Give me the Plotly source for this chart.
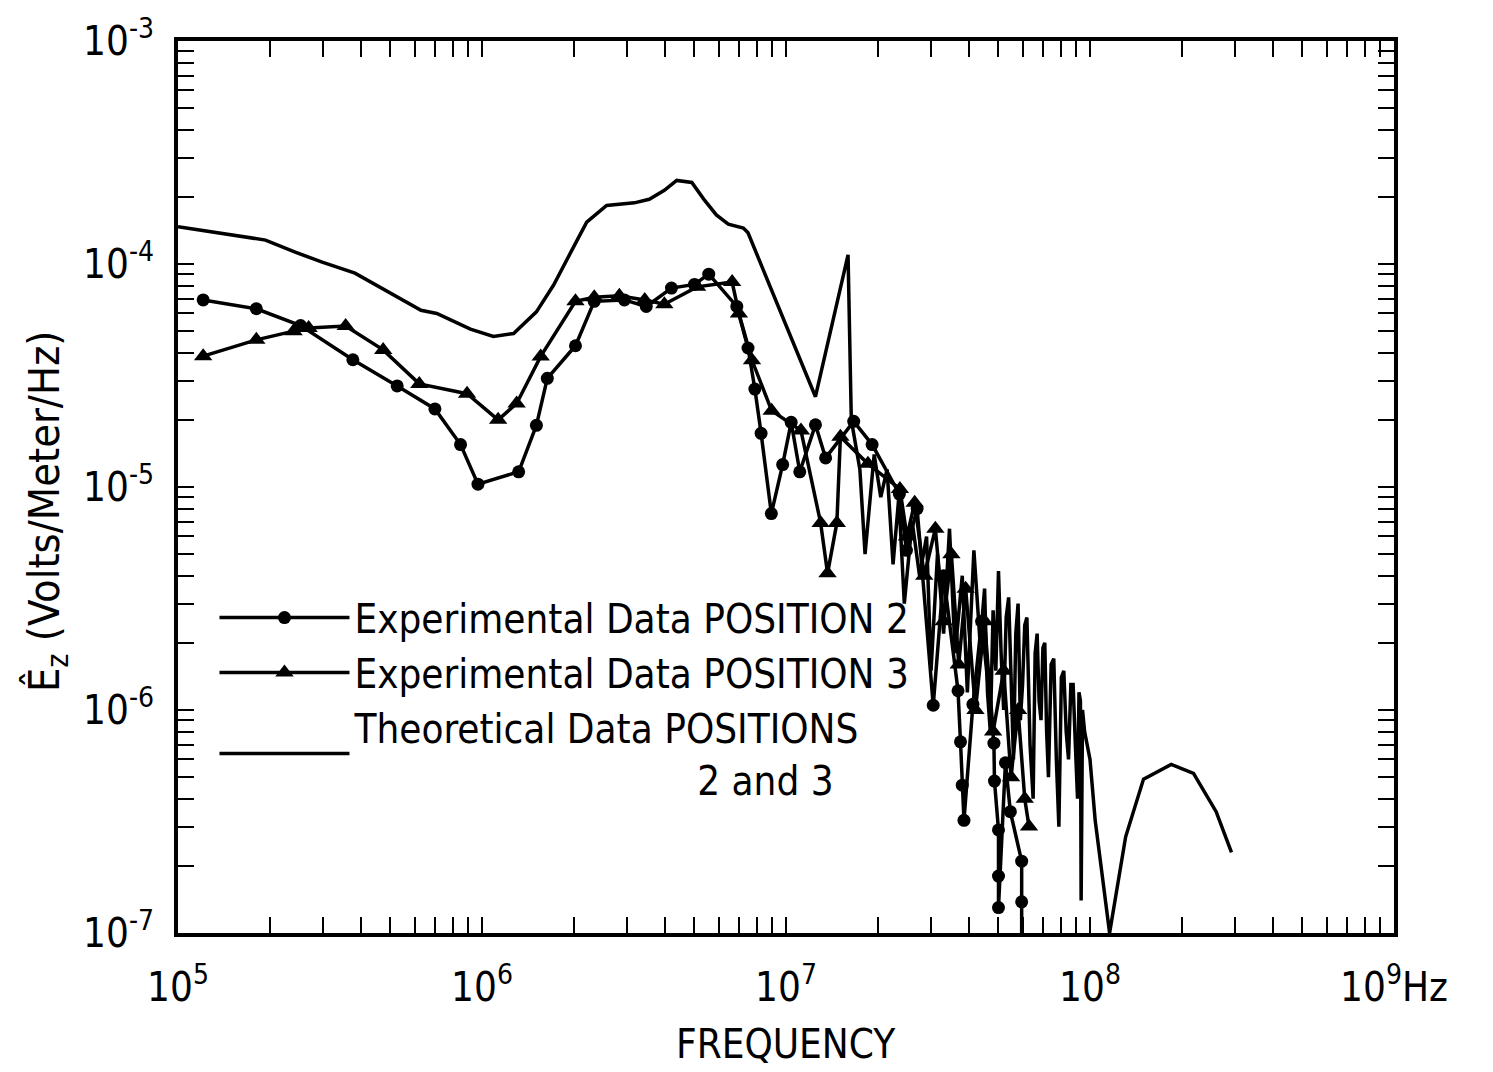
import plotly.graph_objects as go

# ---------------- data ----------------
theo_f = [1.0e5, 1.23e5, 1.94e5, 2.43e5, 2.98e5, 3.82e5, 4.89e5, 6.3e5, 7.1e5, 9.16e5,
          1.09e6, 1.27e6, 1.51e6, 1.72e6, 1.96e6, 2.21e6, 2.57e6, 3.17e6, 3.55e6, 3.98e6,
          4.37e6, 4.9e6, 5.37e6, 5.9e6, 6.46e6, 7.24e6, 7.5e6, 1.25e7, 1.6e7, 1.64e7,
          1.75e7, 1.82e7, 1.95e7, 2.05e7, 2.15e7, 2.25e7, 2.35e7, 2.45e7, 2.6e7, 2.75e7,
          2.9e7, 3.0e7, 3.15e7, 3.3e7, 3.45e7, 3.6e7, 3.8e7, 3.95e7, 4.15e7, 4.35e7,
          4.5e7, 4.6e7, 4.7e7, 4.8e7, 4.9e7, 5.0e7, 5.1e7, 5.2e7, 5.3e7, 5.4e7,
          5.5e7, 5.6e7, 5.7e7, 5.8e7, 5.9e7, 6.0e7, 6.1e7, 6.2e7, 6.35e7, 6.5e7,
          6.6e7, 6.7e7, 6.8e7, 6.9e7, 7.0e7, 7.1e7, 7.2e7, 7.3e7, 7.45e7, 7.6e7,
          7.75e7, 7.9e7, 8.05e7, 8.2e7, 8.35e7, 8.5e7, 8.65e7, 8.8e7, 8.95e7, 9.1e7,
          9.2e7, 9.3e7, 9.35e7, 9.45e7, 9.6e7, 1.0e8, 1.04e8, 1.11e8, 1.16e8, 1.31e8,
          1.5e8, 1.85e8, 2.19e8, 2.6e8, 2.92e8]
theo_v = [1.47e-4, 1.41e-4, 1.28e-4, 1.13e-4, 1.02e-4, 9.1e-5, 7.5e-5, 6.2e-5, 6.0e-5, 5.1e-5,
          4.73e-5, 4.88e-5, 6.1e-5, 8.05e-5, 1.13e-4, 1.54e-4, 1.83e-4, 1.88e-4, 1.95e-4, 2.14e-4,
          2.37e-4, 2.32e-4, 1.95e-4, 1.66e-4, 1.51e-4, 1.45e-4, 1.38e-4, 2.54e-5, 1.1e-4, 2.0e-5,
          1.2e-5, 5.0e-6, 1.4e-5, 9e-6, 1.2e-5, 4.5e-6, 9e-6, 3.0e-6, 7e-6, 4e-6,
          6e-6, 1.5e-6, 5e-6, 2.2e-6, 6.5e-6, 1.8e-6, 4e-6, 1.2e-6, 5.2e-6, 2.0e-6,
          3.5e-6, 1.2e-6, 8e-7, 2.8e-6, 1.5e-6, 4.2e-6, 1.8e-6, 1.0e-6, 2.6e-6, 3.2e-6,
          1.4e-6, 6e-7, 2.2e-6, 3.0e-6, 9e-7, 1.3e-6, 2.4e-6, 2.6e-6, 7e-7, 4e-7,
          1.8e-6, 2.2e-6, 1.1e-6, 9e-7, 1.9e-6, 2.0e-6, 8e-7, 5e-7, 1.6e-6, 1.7e-6,
          6e-7, 3e-7, 1.4e-6, 1.5e-6, 8e-7, 6e-7, 1.3e-6, 1.3e-6, 7e-7, 4e-7,
          1.2e-6, 1.1e-6, 1.4e-7, 1.0e-6, 8e-7, 6.0e-7, 3.2e-7, 1.64e-7, 1.0e-7, 2.7e-7,
          4.9e-7, 5.7e-7, 5.2e-7, 3.5e-7, 2.3e-7]

pos2_f = [1.21e5, 1.81e5, 2.53e5, 3.76e5, 5.26e5, 7.0e5, 8.5e5, 9.7e5, 1.32e6, 1.51e6,
          1.64e6, 2.03e6, 2.34e6, 2.94e6, 3.47e6, 4.2e6, 5.0e6, 5.57e6, 6.89e6, 7.5e6,
          7.9e6, 8.28e6, 8.95e6, 9.75e6, 1.04e7, 1.11e7, 1.25e7, 1.35e7, 1.67e7, 1.92e7,
          2.36e7, 2.49e7, 2.7e7, 3.05e7, 3.3e7, 3.68e7, 3.75e7, 3.8e7, 3.85e7, 4.12e7,
          4.4e7, 4.83e7, 4.85e7, 5.0e7, 5.0e7, 5.0e7, 5.27e7, 5.47e7, 5.96e7, 5.96e7, 5.96e7]
pos2_v = [6.9e-5, 6.3e-5, 5.3e-5, 3.72e-5, 2.84e-5, 2.24e-5, 1.55e-5, 1.03e-5, 1.17e-5, 1.89e-5,
          3.07e-5, 4.3e-5, 6.8e-5, 6.9e-5, 6.45e-5, 7.8e-5, 8.1e-5, 9.0e-5, 6.45e-5, 4.2e-5,
          2.75e-5, 1.74e-5, 7.6e-6, 1.26e-5, 1.95e-5, 1.17e-5, 1.9e-5, 1.35e-5, 1.97e-5, 1.55e-5,
          9.3e-6, 5.2e-6, 8e-6, 1.05e-6, 4e-6, 1.22e-6, 7.2e-7, 4.6e-7, 3.2e-7, 1.06e-6,
          2.5e-6, 7.1e-7, 4.8e-7, 2.9e-7, 1.8e-7, 1.3e-7, 5.8e-7, 3.5e-7, 2.1e-7, 1.38e-7, 9e-8]

pos3_f = [1.21e5, 1.81e5, 2.4e5, 2.69e5, 3.56e5, 4.73e5, 6.22e5, 8.93e5, 1.13e6, 1.3e6,
          1.56e6, 2.03e6, 2.34e6, 2.83e6, 3.43e6, 3.98e6, 5.1e6, 6.65e6, 7.0e6, 7.73e6,
          8.97e6, 1.12e7, 1.3e7, 1.37e7, 1.47e7, 1.51e7, 1.86e7, 2.37e7, 2.5e7, 2.65e7,
          2.85e7, 3.1e7, 3.3e7, 3.5e7, 3.7e7, 3.9e7, 4.2e7, 4.5e7, 4.8e7, 5.2e7,
          5.5e7, 5.8e7, 6.1e7, 6.3e7]
pos3_v = [3.86e-5, 4.57e-5, 5.0e-5, 5.16e-5, 5.27e-5, 4.12e-5, 2.9e-5, 2.62e-5, 2.0e-5, 2.37e-5,
          3.85e-5, 6.8e-5, 7.1e-5, 7.2e-5, 6.9e-5, 6.6e-5, 7.9e-5, 8.3e-5, 6.0e-5, 3.7e-5,
          2.2e-5, 1.79e-5, 6.9e-6, 4.1e-6, 6.9e-6, 1.68e-5, 1.27e-5, 9.8e-6, 6e-6, 8.5e-6,
          4e-6, 6.5e-6, 2.5e-6, 5e-6, 1.6e-6, 3.5e-6, 1.0e-6, 2.5e-6, 8e-7, 1.5e-6,
          5e-7, 1.0e-6, 4e-7, 3e-7]

x_decades = [5, 6, 7, 8, 9]
x_labels = ["10<sup>5</sup>", "10<sup>6</sup>", "10<sup>7</sup>", "10<sup>8</sup>", "10<sup>9</sup>Hz"]
y_decades = [-7, -6, -5, -4, -3]
y_labels = ["10<sup>-7</sup>", "10<sup>-6</sup>", "10<sup>-5</sup>", "10<sup>-4</sup>", "10<sup>-3</sup>"]

name2 = "Experimental Data POSITION 2"
name3 = "Experimental Data POSITION 3"
name_t = "Theoretical Data POSITIONS<br>" + "\u00a0" * 30 + "2 and 3"
x_title = "FREQUENCY"
y_title = "Ê<sub>z</sub> (Volts/Meter/Hz)"

# ---------------- figure ----------------
FONT = "Liberation Sans Narrow, DejaVu Sans Condensed, Liberation Sans, Arial, sans-serif"


def minor_vals(decades):
    vals = []
    for d in decades[:-1]:
        for m in range(2, 10):
            vals.append(m * 10.0 ** d)
    return vals


fig = go.Figure()
fig.add_trace(go.Scatter(x=pos2_f, y=pos2_v, mode="lines+markers", name=name2,
                         line=dict(color="black", width=3.5),
                         marker=dict(symbol="circle", size=13, color="black")))
fig.add_trace(go.Scatter(x=pos3_f, y=pos3_v, mode="lines+markers", name=name3,
                         line=dict(color="black", width=3.5),
                         marker=dict(symbol="triangle-up", size=16, color="black")))
fig.add_trace(go.Scatter(x=theo_f, y=theo_v, mode="lines", name=name_t,
                         line=dict(color="black", width=3.5)))

axis_common = dict(showgrid=False, zeroline=False, showline=True, linecolor="black",
                   linewidth=4, mirror="allticks", ticks="inside", ticklen=16,
                   tickwidth=2, tickcolor="black", tickmode="array",
                   tickfont=dict(family=FONT, size=40, color="black"))

fig.update_xaxes(type="log", range=[5, 9],
                 tickvals=[10.0 ** d for d in x_decades], ticktext=x_labels,
                 minor=dict(tickmode="array", tickvals=minor_vals(x_decades), ticks="inside",
                            ticklen=16, tickwidth=2, tickcolor="black", showgrid=False),
                 ticklabelstandoff=16,
                 **axis_common)
fig.update_yaxes(type="log", range=[-7, -3],
                 tickvals=[10.0 ** d for d in y_decades], ticktext=y_labels,
                 minor=dict(tickmode="array", tickvals=minor_vals(y_decades), ticks="inside",
                            ticklen=16, tickwidth=2, tickcolor="black", showgrid=False),
                 ticklabelstandoff=12,
                 **axis_common)

fig.update_layout(
    width=1493, height=1072,
    margin=dict(l=178, r=99, t=35, b=139),
    paper_bgcolor="white", plot_bgcolor="white",
    font=dict(family=FONT, color="black"),
    showlegend=True,
    legend=dict(x=0.03, y=0.39, xanchor="left", yanchor="top",
                bgcolor="rgba(0,0,0,0)", borderwidth=0,
                font=dict(family=FONT, size=40, color="black"),
                itemwidth=130, tracegroupgap=0),
    annotations=[
        dict(text=x_title, xref="paper", yref="paper", x=0.5, y=-0.1247,
             xanchor="center", yanchor="middle", showarrow=False,
             font=dict(family=FONT, size=40, color="black")),
        dict(text=y_title, xref="paper", yref="paper", x=-0.1077, y=0.473,
             xanchor="center", yanchor="middle", textangle=-90, showarrow=False,
             font=dict(family=FONT, size=43, color="black")),
    ],
)

fig.write_html("out.html")
